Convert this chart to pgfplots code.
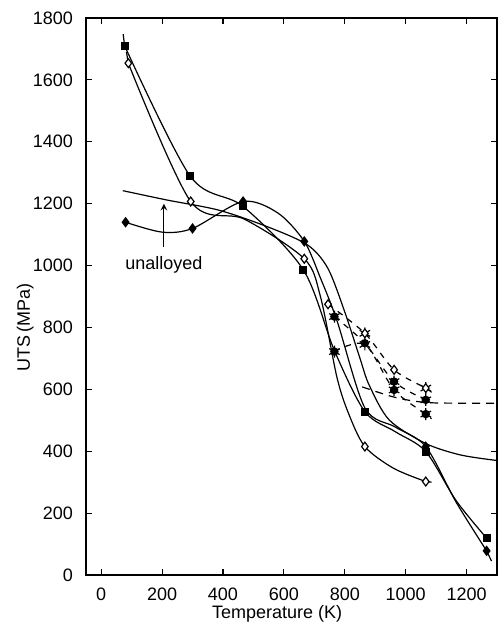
\documentclass[border=0pt]{standalone}
\usepackage{fontspec}
\setmainfont{Liberation Sans}
\usepackage{pgfplots}
\pgfplotsset{compat=1.18}
\begin{document}
\begin{tikzpicture}
\begin{axis}[
 at={(0pt,0pt)}, anchor=south west,
 scale only axis, width=205.5pt, height=278.5pt,
 xmin=-50, xmax=1300, ymin=0, ymax=1800,
 xtick={0,200,...,1200}, ytick={0,200,...,1800},
 tick align=inside, major tick length=3pt,
 axis line style={line width=0.8pt},
 every tick/.style={line width=0.6pt, black},
 /pgf/number format/assume math mode=true,
 /pgf/number format/set thousands separator={},
 ticklabel style={font=\fontsize{9}{10}\selectfont},
 xticklabel style={yshift=-3pt},
 yticklabel style={xshift=-3pt},
 xlabel={Temperature (K)}, ylabel={UTS\,(MPa)},
 label style={font=\fontsize{9}{10}\selectfont},
 xlabel style={at={(axis description cs:0.465,-0.07)}, anchor=center},
 ylabel style={at={(axis description cs:-0.148,0.445)}, anchor=center},
 every axis plot/.append style={line width=0.6pt, black},
]
% filled squares (solid)
\addplot[smooth, tension=0.5] coordinates {(77,1710)(293,1288)(466,1191)(664,986)(766,725)(866,528)(966,463)(1066,399)(1166,240)(1266,119)};
\addplot[no marks] coordinates {(72,1748)(77,1710)};
\addplot[only marks, mark=square*, mark size=1.7pt] coordinates {(77,1710)(293,1288)(466,1191)(664,986)(866,528)(1066,399)(1266,119)};
% open diamonds (solid)
\addplot[smooth, tension=0.5] coordinates {(89,1654)(294,1207)(470,1150)(667,1022)(720,900)(774,640)(812,523)(866,415)(960,345)(1066,302)};
\addplot[no marks] coordinates {(83,1690)(89,1654)};
\addplot[no marks] coordinates {(1066,302)(1085,300)};
\addplot[only marks, mark=diamond*, mark options={fill=white}, mark size=2.2pt] coordinates {(89,1654)(294,1207)(667,1022)(866,415)(1066,302)};
% filled diamonds (solid)
\addplot[smooth, tension=0.5] coordinates {(80,1140)(200,1108)(300,1120)(466,1207)(580,1170)(667,1078)(720,960)(775,820)(866,540)(966,478)(1066,415)(1166,235)(1266,78)};
\addplot[no marks] coordinates {(1266,78)(1282,45)};
\addplot[only marks, mark=diamond*, mark size=2.2pt] coordinates {(80,1140)(300,1120)(466,1207)(667,1078)(1066,415)(1266,78)};
% unalloyed (solid, no marks)
\addplot[smooth, tension=0.5] coordinates {(71,1242)(215,1212)(390,1178)(560,1120)(680,1065)(745,990)(800,850)(850,700)(880,614)(946,501)(1066,425)(1180,388)(1300,370)};
% dashed series
\addplot[dashed, smooth, tension=0.5] coordinates {(745,875)(866,781)(962,663)(1066,604)(1085,590)};
\addplot[dashed, smooth, tension=0.5] coordinates {(766,835)(866,749)(962,625)(1066,566)};
\addplot[dashed, smooth, tension=0.5] coordinates {(766,722)(866,745)(962,598)(1066,520)(1085,505)};
\addplot[dash pattern=on 4pt off 3pt, smooth, tension=0.5] coordinates {(857,608)(950,578)(1021,563)(1100,556)(1300,555)};
% markers of dashed series
\addplot[only marks, mark=asterisk, mark size=3pt] coordinates {(766,835)(766,722)(866,781)(866,745)(962,625)(962,598)(1066,604)(1066,566)(1066,520)};
\addplot[only marks, mark=diamond*, mark options={fill=white}, mark size=2.2pt] coordinates {(745,875)(866,781)(962,663)(1066,604)};
\addplot[only marks, mark=*, mark size=1.8pt] coordinates {(766,835)(766,722)(866,749)(962,625)(962,598)(1066,566)(1066,520)};
% label
\node[font=\fontsize{9}{10}\selectfont] at (axis cs:206,1002) {unalloyed};
\draw[->, line width=0.5pt, >=stealth] (axis cs:206,1060) -- (axis cs:206,1200);
\end{axis}
\pgfresetboundingbox
\path[use as bounding box] (-43pt,-29pt) rectangle (206pt,287.5pt);
\end{tikzpicture}
\end{document}
